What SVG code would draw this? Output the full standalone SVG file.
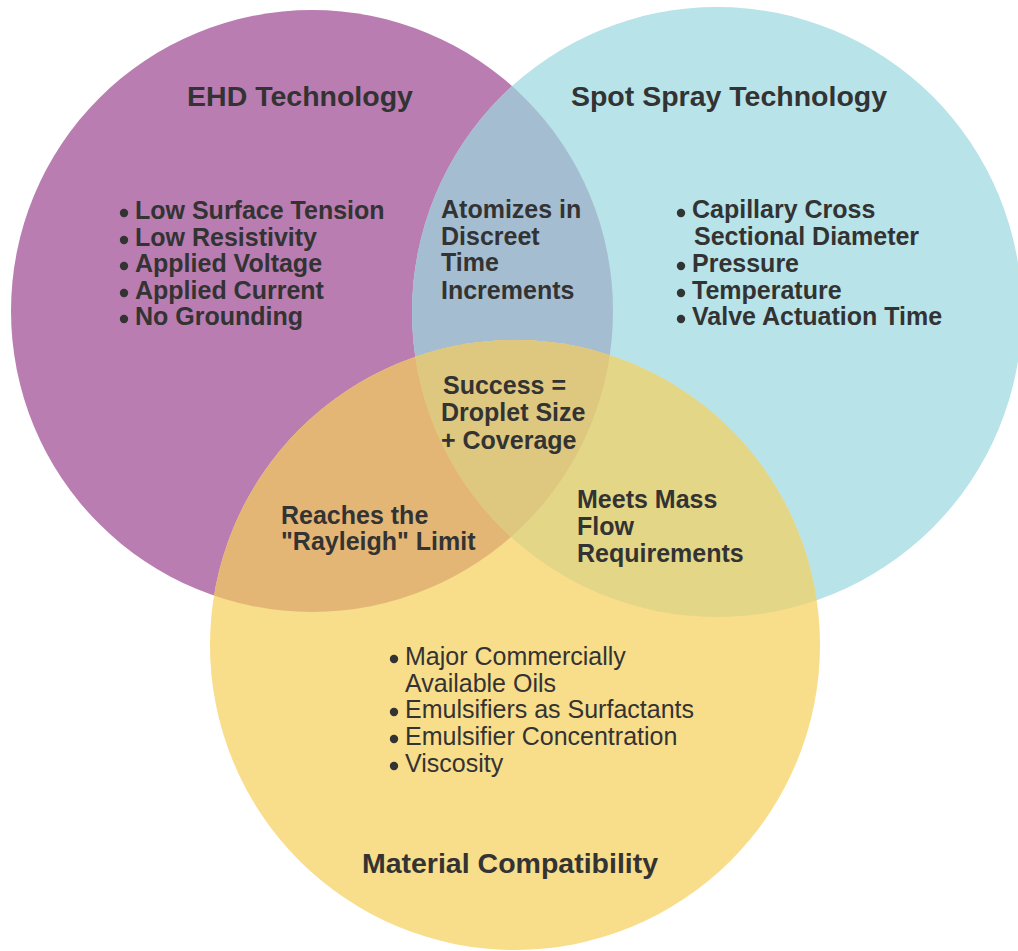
<svg xmlns="http://www.w3.org/2000/svg" width="1018" height="951" viewBox="0 0 1018 951">
  <defs>
    <clipPath id="clip-ehd"><circle cx="312" cy="311" r="301"/></clipPath>
    <clipPath id="clip-spot"><circle cx="717" cy="312" r="305"/></clipPath>
    <clipPath id="clip-mat"><circle cx="515" cy="645" r="305"/></clipPath>
  </defs>
  <style>
    text { font-family: "Liberation Sans", Arial, sans-serif; fill: #333333; }
    .title { font-size: 28.5px; font-weight: bold; text-anchor: middle; }
    .item { font-size: 25px; font-weight: bold; }
    .item-r { font-size: 25px; font-weight: normal; }
    .dot { fill: #333333; }
  </style>
  <rect width="1018" height="951" fill="#ffffff"/>

  <!-- circles and their overlap regions -->
  <g id="circles">
    <circle id="circle-ehd" cx="312" cy="311" r="301" fill="#B97DB1"/>
    <circle id="circle-spot" cx="717" cy="312" r="305" fill="#B8E3E8"/>
    <circle cx="717" cy="312" r="305" fill="#A5BDD1" clip-path="url(#clip-ehd)"/>
    <circle id="circle-mat" cx="515" cy="645" r="305" fill="#F8DD8A"/>
    <circle cx="515" cy="645" r="305" fill="#E3B676" clip-path="url(#clip-ehd)"/>
    <circle cx="515" cy="645" r="305" fill="#E3D686" clip-path="url(#clip-spot)"/>
    <g clip-path="url(#clip-ehd)">
      <circle cx="515" cy="645" r="305" fill="#DEC77F" clip-path="url(#clip-spot)"/>
    </g>
  </g>

  <!-- EHD Technology -->
  <g id="node-ehd">
    <text class="title" x="300" y="106">EHD Technology</text>
    <circle class="dot" cx="124" cy="213" r="4.2"/>
    <circle class="dot" cx="124" cy="240" r="4.2"/>
    <circle class="dot" cx="124" cy="266" r="4.2"/>
    <circle class="dot" cx="124" cy="293" r="4.2"/>
    <circle class="dot" cx="124" cy="319" r="4.2"/>
    <text class="item" x="135" y="219">Low Surface Tension</text>
    <text class="item" x="135" y="246">Low Resistivity</text>
    <text class="item" x="135" y="272">Applied Voltage</text>
    <text class="item" x="135" y="299">Applied Current</text>
    <text class="item" x="135" y="325">No Grounding</text>
  </g>

  <!-- Spot Spray Technology -->
  <g id="node-spot">
    <text class="title" x="729" y="106">Spot Spray Technology</text>
    <circle class="dot" cx="681" cy="213" r="4.2"/>
    <circle class="dot" cx="681" cy="266" r="4.2"/>
    <circle class="dot" cx="681" cy="293" r="4.2"/>
    <circle class="dot" cx="681" cy="319" r="4.2"/>
    <text class="item" x="692" y="218">Capillary Cross</text>
    <text class="item" x="694" y="245">Sectional Diameter</text>
    <text class="item" x="692" y="272">Pressure</text>
    <text class="item" x="692" y="299">Temperature</text>
    <text class="item" x="692" y="325">Valve Actuation Time</text>
  </g>

  <!-- EHD / Spot Spray overlap -->
  <g id="node-atomize">
    <text class="item" x="441" y="218">Atomizes in</text>
    <text class="item" x="441" y="245">Discreet</text>
    <text class="item" x="441" y="271">Time</text>
    <text class="item" x="441" y="299">Increments</text>
  </g>

  <!-- centre of all three -->
  <g id="node-success">
    <text class="item" x="443" y="394">Success =</text>
    <text class="item" x="441" y="421">Droplet Size</text>
    <text class="item" x="441" y="449">+ Coverage</text>
  </g>

  <!-- EHD / Material overlap -->
  <g id="node-rayleigh">
    <text class="item" x="281" y="524">Reaches the</text>
    <text class="item" x="281" y="550">"Rayleigh" Limit</text>
  </g>

  <!-- Spot Spray / Material overlap -->
  <g id="node-massflow">
    <text class="item" x="577" y="508">Meets Mass</text>
    <text class="item" x="577" y="535">Flow</text>
    <text class="item" x="577" y="562">Requirements</text>
  </g>

  <!-- Material Compatibility -->
  <g id="node-material">
    <circle class="dot" cx="394" cy="659" r="4.2"/>
    <circle class="dot" cx="394" cy="712" r="4.2"/>
    <circle class="dot" cx="394" cy="739" r="4.2"/>
    <circle class="dot" cx="394" cy="766" r="4.2"/>
    <text class="item-r" x="405" y="665">Major Commercially</text>
    <text class="item-r" x="405" y="692">Available Oils</text>
    <text class="item-r" x="405" y="718">Emulsifiers as Surfactants</text>
    <text class="item-r" x="405" y="745">Emulsifier Concentration</text>
    <text class="item-r" x="405" y="772">Viscosity</text>
    <text class="title" x="510" y="873">Material Compatibility</text>
  </g>

  <g id="connectors"/>
</svg>
